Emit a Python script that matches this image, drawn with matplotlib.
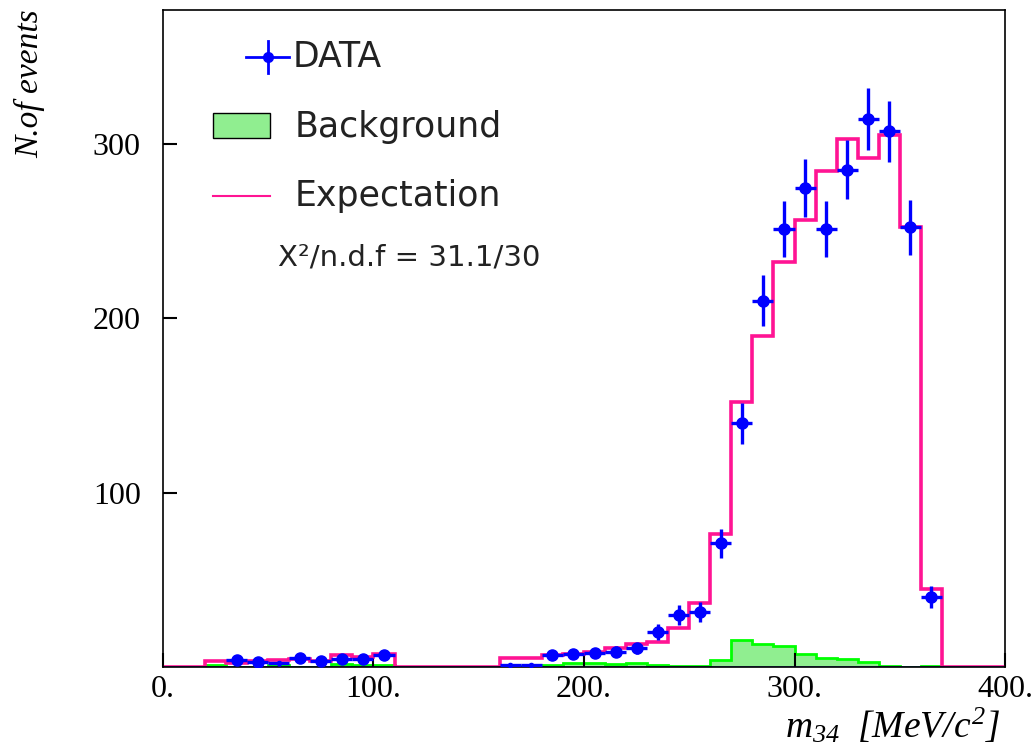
import matplotlib
matplotlib.use("Agg")
import matplotlib.pyplot as plt
from matplotlib.patches import Rectangle

plt.rcParams['mathtext.fontset'] = 'custom'
plt.rcParams['mathtext.it'] = 'Liberation Serif:italic'
plt.rcParams['mathtext.rm'] = 'Liberation Serif:italic'

# bin edges, 10 MeV bins from 0 to 400
edges = list(range(0, 410, 10))

# expectation (MC signal + background), one value per bin
expectation = [0, 0, 3.4, 2.3, 3.4, 4.0, 4.6, 3.7, 7.0, 6.0,
               7.3, 0, 0, 0, 0, 0, 5.4, 5.3, 6.9, 7.6,
               8.5, 10.7, 13.2, 14.1, 22.2, 36.9, 76.1, 152.3, 190.0, 232.3,
               256.3, 284.4, 302.7, 292.1, 305.2, 252.5, 44.6, 0, 0, 0]

background = [0, 0, 1.2, 0, 0, 1.2, 0, 0, 1.9, 1.0,
              1.0, 0, 0, 0, 0, 0, 0.5, 0.5, 1.1, 2.1,
              2.1, 1.5, 2.1, 1.2, 0.8, 0.4, 3.8, 15.5, 13.4, 12.2,
              7.3, 5.0, 4.8, 2.9, 0.8, 0.2, 0.8, 0, 0, 0]

# data points
data_x = [35, 45, 55, 65, 75, 85, 95, 105,
          165, 175, 185, 195, 205, 215, 225, 235, 245, 255, 265, 275,
          285, 295, 305, 315, 325, 335, 345, 355, 365]
data_y = [3.8, 2.7, 2.0, 4.9, 3.7, 4.8, 4.7, 6.8,
          1.0, 1.0, 6.9, 7.6, 7.8, 8.8, 10.7, 19.9, 29.8, 31.6, 71.0, 139.8,
          210.2, 251.4, 274.9, 251.4, 285.3, 314.3, 307.3, 252.2, 40.0]
data_err = [1.9, 1.6, 1.4, 2.2, 1.9, 2.2, 2.2, 2.6,
            1.0, 1.0, 2.6, 2.8, 2.8, 3.0, 3.3, 4.5, 5.5, 5.6, 8.4, 11.8,
            14.5, 15.9, 16.6, 15.9, 16.9, 17.7, 17.5, 15.9, 6.3]
half_bin = 5

fig = plt.figure(figsize=(10.36, 7.5), dpi=100)
ax = fig.add_axes([0.1573, 0.1107, 0.8128, 0.876])

blue = '#0000ff'
pink = '#ff1493'

# background histogram
ax.stairs(background, edges, fill=True, color='#90ee90', zorder=1)
ax.stairs(background, edges, color='#00ff00', linewidth=2, zorder=1.2)

# expectation
ax.stairs(expectation, edges, color=pink, linewidth=2.6, zorder=2)

# data with error bars
big = [i for i in range(len(data_y)) if data_y[i] >= 2.5]
small = [i for i in range(len(data_y)) if data_y[i] < 2.5]
for idx, ms in [(big, 8), (small, 3)]:
    ax.errorbar([data_x[i] for i in idx], [data_y[i] for i in idx],
                yerr=[data_err[i] for i in idx], xerr=half_bin,
                fmt='o', color=blue, markersize=ms, elinewidth=2.4,
                capsize=0, zorder=3)

# zero line of the data histogram
ax.axhline(0, color=blue, linewidth=1.2, alpha=0.6, zorder=2.5)

ax.set_xlim(0, 400)
ax.set_ylim(0, 377)
ax.set_xticks([0, 100, 200, 300, 400])
ax.set_xticklabels(['0.', '100.', '200.', '300.', '400.'])
ax.set_yticks([100, 200, 300])
ax.tick_params(direction='in', length=10, width=1.5, labelsize=23,
               colors='black')
ax.tick_params(axis='x', pad=6)
ax.tick_params(axis='y', pad=16)
for lab in ax.get_xticklabels() + ax.get_yticklabels():
    lab.set_fontfamily('Liberation Serif')
for s in ax.spines.values():
    s.set_linewidth(1.2)

# axis titles
fig.text(0.029, 0.987, 'N.of events', rotation=90, ha='center', va='top',
         fontsize=24, fontfamily='Liberation Serif', fontstyle='italic')
fig.text(0.965, 0.016, r'$m_{34}\ \ [MeV/c^{2}]$', ha='right', va='baseline',
         fontsize=27)

# legend drawn by hand, ROOT style
tr = ax.transAxes
lx, ly = 0.1247, 0.9285
ax.plot([lx - 0.0255, lx + 0.0255], [ly, ly], color=blue, lw=2, transform=tr)
ax.plot([lx, lx], [ly - 0.0244, ly + 0.0244], color=blue, lw=2, transform=tr)
ax.plot([lx], [ly], 'o', color=blue, ms=7, transform=tr)
ax.add_patch(Rectangle((0.0594, 0.8052), 0.0677, 0.038, transform=tr,
                       facecolor='#90ee90', edgecolor='black', lw=1))
ax.plot([0.0594, 0.1271], [0.7169, 0.7169], color=pink, lw=1.5, transform=tr)

txt = dict(transform=tr, fontsize=25, color='#222222', va='center',
           fontfamily='DejaVu Sans')
ax.text(0.1544, ly, 'DATA', **txt)
ax.text(0.1568, 0.8219, 'Background', **txt)
ax.text(0.1568, 0.7169, 'Expectation', **txt)
ax.text(0.1366, 0.6225, 'X\u00b2/n.d.f = 31.1/30', transform=tr, fontsize=21,
        color='#222222', va='center', fontfamily='DejaVu Sans')

plt.savefig('out.png', dpi=100)
